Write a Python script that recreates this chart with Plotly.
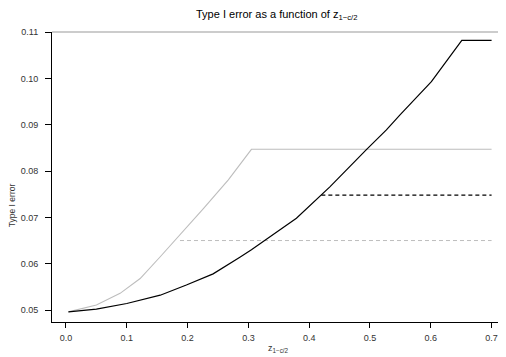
import plotly.graph_objects as go

# Data
black_x = [0.004, 0.05, 0.10, 0.155, 0.198, 0.242, 0.286, 0.305, 0.379, 0.42, 0.434, 0.4945, 0.527, 0.549, 0.601, 0.651, 0.70]
black_y = [0.0496, 0.0502, 0.0514, 0.0532, 0.0554, 0.0578, 0.0614, 0.0630, 0.0698, 0.0748, 0.0766, 0.0847, 0.0889, 0.0921, 0.0993, 0.1082, 0.1082]

gray_x = [0.004, 0.05, 0.089, 0.122, 0.155, 0.1875, 0.226, 0.267, 0.305, 0.70]
gray_y = [0.0496, 0.0511, 0.0536, 0.0568, 0.0615, 0.0662, 0.0719, 0.0781, 0.0847, 0.0847]

black_dash_x = [0.42, 0.70]
black_dash_y = [0.0748, 0.0748]

gray_dash_x = [0.1875, 0.70]
gray_dash_y = [0.0650, 0.0650]

x_ticks = [0.0, 0.1, 0.2, 0.3, 0.4, 0.5, 0.6, 0.7]
x_ticktext = ["0.0", "0.1", "0.2", "0.3", "0.4", "0.5", "0.6", "0.7"]
y_ticks = [0.05, 0.06, 0.07, 0.08, 0.09, 0.10, 0.11]
y_ticktext = ["0.05", "0.06", "0.07", "0.08", "0.09", "0.10", "0.11"]

FONT = "Liberation Sans, Arial, sans-serif"

fig = go.Figure()
fig.add_trace(go.Scatter(x=gray_dash_x, y=gray_dash_y, mode="lines",
                         line=dict(color="#bdbdbd", width=1, dash="4px,3px")))
fig.add_trace(go.Scatter(x=gray_x, y=gray_y, mode="lines",
                         line=dict(color="#bdbdbd", width=1.1)))
fig.add_trace(go.Scatter(x=black_dash_x, y=black_dash_y, mode="lines",
                         line=dict(color="black", width=1.1, dash="4px,3px")))
fig.add_trace(go.Scatter(x=black_x, y=black_y, mode="lines",
                         line=dict(color="black", width=1.2)))

fig.update_layout(
    width=498, height=349,
    margin=dict(l=44, r=0, t=24, b=35),
    paper_bgcolor="white", plot_bgcolor="white",
    showlegend=False,
    font=dict(family=FONT, size=9, color="#333333"),
    xaxis=dict(range=[-0.023, 0.7237], tickvals=x_ticks, ticktext=x_ticktext,
               showgrid=False, zeroline=False, showline=True, linecolor="black",
               linewidth=1, ticks="outside", ticklen=5, tickcolor="black",
               ticklabelstandoff=2,
               tickfont=dict(size=9, color="#333333")),
    yaxis=dict(range=[0.04741, 0.11003], tickvals=y_ticks, ticktext=y_ticktext,
               showgrid=False, zeroline=False, showline=True, linecolor="black",
               linewidth=1, ticks="outside", ticklen=6, tickcolor="black",
               ticklabelstandoff=5,
               tickfont=dict(size=9, color="#333333")),
    shapes=[dict(type="line", xref="paper", yref="paper", x0=0, x1=1, y0=1, y1=1,
                 line=dict(color="#999999", width=1))],
    annotations=[
        dict(text="Type I error as a function of z<sub>1−c/2</sub>", xref="paper", yref="paper",
             x=0.4956, y=1.06, showarrow=False, font=dict(size=11, color="black"),
             xanchor="center", yanchor="middle"),
        dict(text="z<sub>1−c/2</sub>", xref="paper", yref="paper",
             x=0.4978, y=-0.093, showarrow=False, font=dict(size=9, color="#333333"),
             xanchor="center", yanchor="middle"),
        dict(text="Type I error", xref="paper", yref="paper",
             x=-0.088, y=0.403, showarrow=False, textangle=-90,
             font=dict(size=8.5, color="#333333"), xanchor="center", yanchor="middle"),
    ],
)

fig.write_html("out.html")
